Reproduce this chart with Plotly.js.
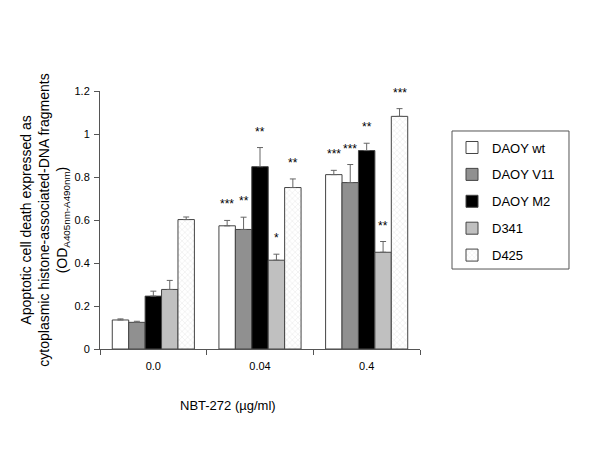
<!DOCTYPE html>
<html>
<head>
<meta charset="utf-8">
<script src="https://cdn.plot.ly/plotly-3.0.1.min.js"></script>
<style>html,body{margin:0;padding:0;background:#fff;}</style>
</head>
<body>
<div id="chart" style="width:600px;height:450px;"></div>
<script>
const categories = ["0.0", "0.04", "0.4"];
const seriesNames = ["DAOY wt", "DAOY V11", "DAOY M2", "D341", "D425"];
const daoyWt = [0.135, 0.573, 0.811];
const daoyWtErr = [0.005, 0.025, 0.020];
const daoyV11 = [0.124, 0.556, 0.774];
const daoyV11Err = [0.005, 0.057, 0.084];
const daoyM2 = [0.246, 0.848, 0.923];
const daoyM2Err = [0.023, 0.089, 0.034];
const d341 = [0.277, 0.413, 0.450];
const d341Err = [0.042, 0.028, 0.050];
const d425 = [0.602, 0.751, 1.082];
const d425Err = [0.012, 0.040, 0.036];
const stars = [
  ["", "***", "***"],
  ["", "**", "***"],
  ["", "**", "**"],
  ["", "*", "**"],
  ["", "**", "***"]
];
const yTickVals = [0, 0.2, 0.4, 0.6, 0.8, 1.0, 1.2];
const yTickText = ["0", "0.2", "0.4", "0.6", "0.8", "1", "1.2"];

const values = [daoyWt, daoyV11, daoyM2, d341, d425];
const errors = [daoyWtErr, daoyV11Err, daoyM2Err, d341Err, d425Err];
const fills = ["#ffffff", "#909090", "#000000", "#c0c0c0", "#f6f6f6"];

const bargap = 0.23;
const nSeries = seriesNames.length;
const barW = (1 - bargap) / nSeries;

const traces = seriesNames.map((name, j) => {
  const marker = {color: fills[j], line: {color: "#444", width: 1}};
  if (j === 4) {
    marker.pattern = {shape: "x", fgcolor: "#e2e2e2", bgcolor: "#ffffff", size: 4, solidity: 0.2};
  }
  return {
    type: "bar",
    name: name,
    x: categories,
    y: values[j],
    marker: marker,
    legendgroup: "g" + j,
    error_y: {type: "data", symmetric: false, array: errors[j], arrayminus: errors[j].map(() => 0),
      color: "#666", thickness: 1, width: 3},
    hoverinfo: "none"
  };
});

const annotations = [];
for (let j = 0; j < nSeries; j++) {
  for (let i = 0; i < categories.length; i++) {
    if (!stars[j][i]) continue;
    annotations.push({
      x: i + (j - (nSeries - 1) / 2) * barW,
      y: values[j][i] + errors[j][i],
      xref: "x", yref: "y",
      text: stars[j][i],
      showarrow: false,
      yanchor: "bottom",
      yshift: 7,
      font: {family: "Liberation Sans, Arial, sans-serif", size: 12, color: "#000"}
    });
  }
}
annotations.push({
  x: 0.4, y: -0.22, xref: "paper", yref: "paper",
  xanchor: "center", yanchor: "middle",
  text: "NBT-272 (µg/ml)", showarrow: false,
  font: {family: "Liberation Sans, Arial, sans-serif", size: 13, color: "#000"}
});

const layout = {
  width: 600, height: 450,
  margin: {l: 100, r: 180, t: 91, b: 101},
  paper_bgcolor: "#fff", plot_bgcolor: "#fff",
  barmode: "group", bargap: bargap, bargroupgap: 0,
  font: {family: "Liberation Sans, Arial, sans-serif", size: 11, color: "#000"},
  xaxis: {
    type: "category",
    showline: true, linecolor: "#555", linewidth: 1,
    ticks: "outside", tickson: "boundaries", ticklen: 5, tickcolor: "#555",
    showgrid: false, zeroline: false,
    tickfont: {size: 11}, ticklabelstandoff: 7
  },
  yaxis: {
    range: [0, 1.2],
    tickvals: yTickVals, ticktext: yTickText,
    showline: true, linecolor: "#555", linewidth: 1,
    ticks: "outside", ticklen: 5, tickcolor: "#555",
    showgrid: false, zeroline: false,
    tickfont: {size: 11}, ticklabelstandoff: 2,
    title: {
      text: "Apoptotic cell death expressed as<br>cytoplasmic histone-associated-DNA fragments<br>(OD<sub>A405nm-A490nm</sub>)",
      font: {size: 14}, standoff: 3
    }
  },
  showlegend: true,
  legend: {
    x: 1.1, y: 0.839, xanchor: "left", yanchor: "top",
    borderwidth: 0, bgcolor: "rgba(0,0,0,0)",
    font: {size: 13}, tracegroupgap: 7,
    traceorder: "grouped"
  },
  shapes: [{
    type: "rect", xref: "paper", yref: "paper",
    x0: 1.1, x1: 1.4656, y0: 0.310, y1: 0.845,
    line: {color: "#555", width: 1}, fillcolor: "rgba(0,0,0,0)", layer: "below"
  }],
  annotations: annotations
};

Plotly.newPlot("chart", traces, layout, {displayModeBar: false, staticPlot: true});
</script>
</body>
</html>
